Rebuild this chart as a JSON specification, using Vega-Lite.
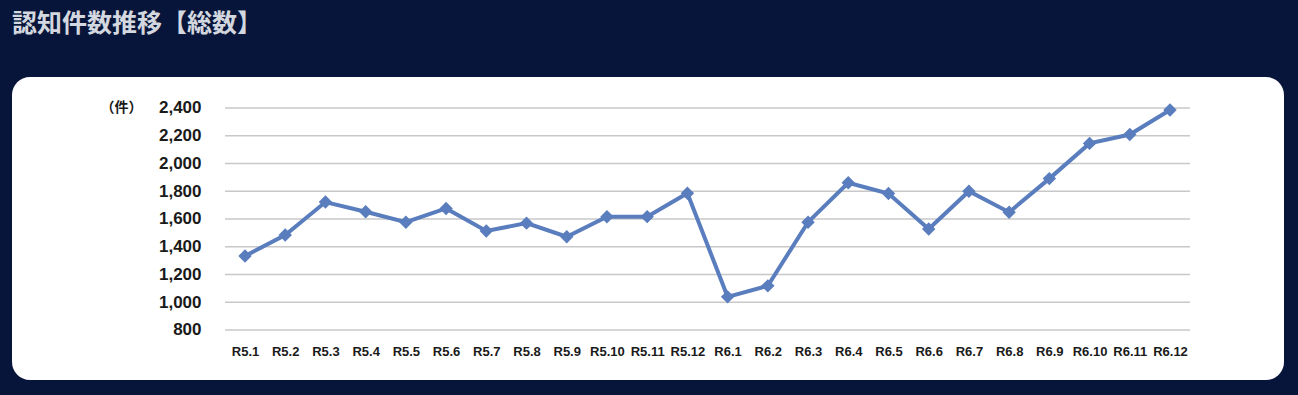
{
  "$schema": "https://vega.github.io/schema/vega-lite/v6.json",
  "width": 1272,
  "height": 303,
  "autosize": {"type": "none"},
  "padding": {"left": 12, "top": 77, "right": 14, "bottom": 15},
  "background": "#07153a",
  "title": {
    "text": "認知件数推移【総数】",
    "anchor": "start",
    "frame": "group",
    "baseline": "bottom",
    "offset": 15,
    "dx": 0,
    "font": "Noto Sans CJK JP",
    "fontSize": 25,
    "fontWeight": "bold",
    "color": "#d3d7df"
  },
  "config": {
    "view": {"fill": "white", "stroke": null, "cornerRadius": 18},
    "scale": {"pointPadding": 0}
  },
  "datasets": {
    "counts": [
      {"month": "R5.1", "count": 1333},
      {"month": "R5.2", "count": 1485},
      {"month": "R5.3", "count": 1722},
      {"month": "R5.4", "count": 1652},
      {"month": "R5.5", "count": 1577},
      {"month": "R5.6", "count": 1676},
      {"month": "R5.7", "count": 1514},
      {"month": "R5.8", "count": 1570},
      {"month": "R5.9", "count": 1472},
      {"month": "R5.10", "count": 1616},
      {"month": "R5.11", "count": 1617},
      {"month": "R5.12", "count": 1786},
      {"month": "R6.1", "count": 1039},
      {"month": "R6.2", "count": 1118},
      {"month": "R6.3", "count": 1577},
      {"month": "R6.4", "count": 1861},
      {"month": "R6.5", "count": 1784},
      {"month": "R6.6", "count": 1528},
      {"month": "R6.7", "count": 1800},
      {"month": "R6.8", "count": 1649},
      {"month": "R6.9", "count": 1891},
      {"month": "R6.10", "count": 2145},
      {"month": "R6.11", "count": 2209},
      {"month": "R6.12", "count": 2386}
    ],
    "grid": [
      {"count": 800}, {"count": 1000}, {"count": 1200}, {"count": 1400}, {"count": 1600},
      {"count": 1800}, {"count": 2000}, {"count": 2200}, {"count": 2400}
    ]
  },
  "encoding": {
    "x": {
      "field": "month",
      "type": "ordinal",
      "sort": null,
      "scale": {
        "type": "point",
        "domain": ["R5.1","R5.2","R5.3","R5.4","R5.5","R5.6","R5.7","R5.8","R5.9","R5.10","R5.11","R5.12","R6.1","R6.2","R6.3","R6.4","R6.5","R6.6","R6.7","R6.8","R6.9","R6.10","R6.11","R6.12"],
        "range": [233, 1158],
        "padding": 0
      },
      "axis": {
        "title": null,
        "orient": "bottom",
        "offset": -45,
        "domain": false,
        "ticks": false,
        "tickSize": 0,
        "grid": false,
        "labelPadding": 10,
        "labelAngle": 0,
        "labelOverlap": false,
        "labelFont": "Liberation Sans",
        "labelFontSize": 13,
        "labelFontWeight": "bold",
        "labelColor": "#1a1a1a"
      }
    },
    "y": {
      "field": "count",
      "type": "quantitative",
      "scale": {"domain": [439.6, 2623.4], "nice": false, "zero": false},
      "axis": {
        "title": "（件）",
        "titleAngle": 0,
        "titleAlign": "right",
        "titleBaseline": "middle",
        "titleX": -83,
        "titleY": 30,
        "titleFont": "Noto Sans CJK JP",
        "titleFontSize": 14,
        "titleFontWeight": "bold",
        "titleColor": "#1a1a1a",
        "values": [800, 1000, 1200, 1400, 1600, 1800, 2000, 2200, 2400],
        "labelExpr": "format(datum.value, ',.0f')",
        "offset": -213,
        "domain": false,
        "ticks": false,
        "tickSize": 0,
        "grid": false,
        "labelPadding": 24,
        "labelFont": "Liberation Sans",
        "labelFontSize": 17,
        "labelFontWeight": "bold",
        "labelColor": "#1a1a1a"
      }
    }
  },
  "layer": [
    {
      "data": {"name": "grid"},
      "mark": {"type": "rule", "color": "#c8c8c8", "strokeWidth": 1.5, "xOffset": -20, "x2Offset": 20},
      "encoding": {
        "x": {"datum": "R5.1", "type": "ordinal"},
        "x2": {"datum": "R6.12"}
      }
    },
    {
      "data": {"name": "counts"},
      "mark": {"type": "line", "color": "#5a7dbe", "strokeWidth": 4}
    },
    {
      "data": {"name": "counts"},
      "mark": {"type": "point", "shape": "diamond", "filled": true, "size": 180, "color": "#5a7dbe", "opacity": 1}
    }
  ]
}
